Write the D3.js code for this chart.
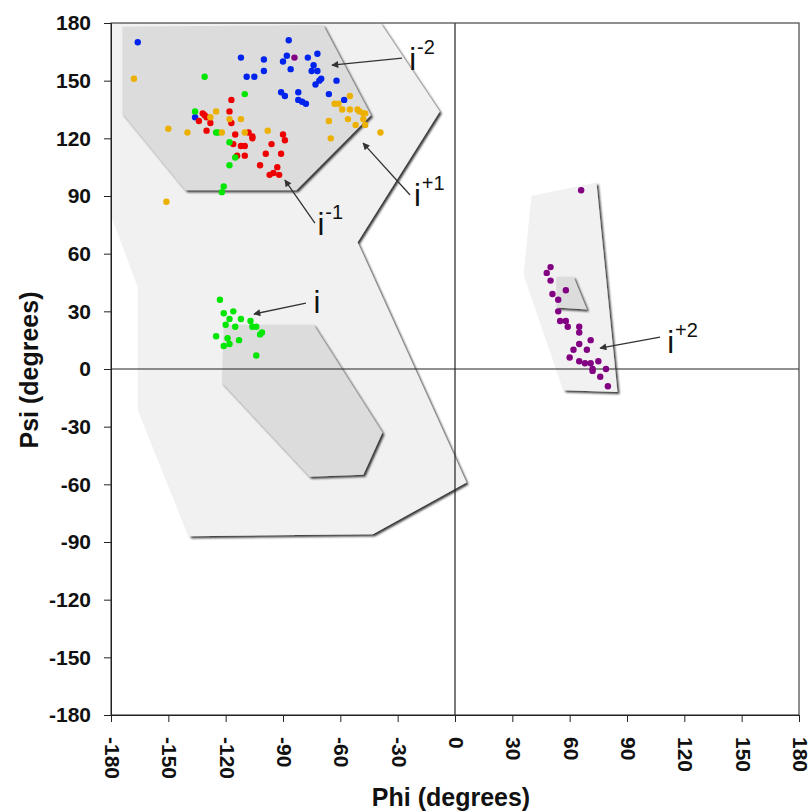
<!DOCTYPE html>
<html>
<head>
<meta charset="utf-8">
<script src="https://cdn.jsdelivr.net/npm/d3@7"></script>
<style>
  body { margin: 0; background: #ffffff; }
  svg { display: block; font-family: "Liberation Sans", Arial, sans-serif; }
</style>
</head>
<body>
<svg id="chart" width="809" height="812"></svg>
<script>
// tick values for both axes
const tickValues = [-180, -150, -120, -90, -60, -30, 0, 30, 60, 90, 120, 150, 180];

// series points, [phi, psi] in degrees
const ptsIm2 = [[-166,170],[-112,162],[-100,161],[-87,171],[-88,163],[-90,160],[-86,156],[-100,155],
  [-109,152],[-105,152],[-91,144],[-89,142],[-82,144],[-82,140],[-80,139],[-78,138],[-136,131],
  [-77,162],[-72,164],[-74,158],[-75,155],[-72,155],[-70,151],[-71,150],[-73,148],[-62,150],[-66,143],[-58,140]];
const ptsIm1 = [[-117,140],[-118,134],[-132,133],[-131,132],[-130,131],[-134,129],[-128,128],[-117,128],
  [-130,124],[-115,122],[-108,123],[-106,121],[-106,120],[-116,117],[-112,116],[-110,116],[-110,111],
  [-114,111],[-96,117],[-99,112],[-91,112],[-90,122],[-89,119],[-102,106],[-93,105],[-97,101],[-95,102],[-92,101]];
const ptsI = [[-131,152],[-110,143],[-136,134],[-125,123],[-124,123],[-118,118],[-115,110],[-118,106],
  [-121,95],[-122,92],
  [-123,36],[-121,29],[-116,30],[-118,26],[-120,23],[-115,22],[-112,26],[-107,25],[-106,22],[-104,22],
  [-102,18],[-101,19],[-125,17],[-119,16],[-113,15],[-121,12],[-118,13],[-104,7]];
const ptsIp1 = [[-168,151],[-151,87],[-150,125],[-140,123],[-125,134],[-128,131],[-118,130],[-112,130],
  [-122,123],[-110,123],[-98,124],[-55,142],[-63,138],[-61,138],[-59,135],[-55,135],[-51,135],[-50,134],
  [-48,133],[-47,133],[-66,129],[-56,130],[-52,127],[-48,130],[-47,127],[-39,123],[-65,120]];
const ptsIp2 = [[-84,162],[66,93],[50,53],[48,50],[50,46],[58,41],[51,39],[54,36],[54,30],[55,25],[58,25],
  [59,22],[65,22],[65,19],[71,15],[65,13],[69,10],[62,10],[60,6],[65,4],[68,3],[71,3],[75,4],[72,0],
  [72,-1],[79,0],[76,-4],[80,-9]];

const seriesColors = ["#0024ee", "#ee0000", "#00e600", "#ecb000", "#820082"];

// allowed regions (outer = light, inner = dark), vertices in degrees
const outerRegionA = [[-180,180],[-39,180],[-8,134],[-51,66],[6,-59],[-43,-86],[-139,-87],[-166,-20],[-166,44],[-180,81]];
const outerRegionB = [[40,90],[74,97],[85,-12],[57,-11],[36,50]];
const innerRegionA = [[-174,178],[-69,179],[-44,132],[-83,93],[-141,93],[-174,133]];
const innerRegionB = [[-121,23],[-74,23],[-38,-33],[-48,-55],[-76,-56],[-122,-7]];
const innerRegionC = [[53,48],[62,48],[69,31],[53,32]];

// labels: name, superscript, label anchor, arrow start, arrow end (degrees)
const labelNames = ["i", "i", "i", "i", "i"];
const labelSups = ["-2", "+1", "-1", "", "+2"];
const labelPos = [[-24,155.5],[-21.5,85],[-72,69.5],[-74,29],[111,8.3]];
const arrowFrom = [[-27.7,161.7],[-23.5,90.5],[-73.3,75.9],[-78,34.3],[107.3,16.6]];
const arrowTo = [[-64.4,158.1],[-48.1,117.5],[-89,98.3],[-105.2,28.6],[75.9,10.9]];

let chart = d3.select("#chart");

let x = d3.scaleLinear().domain([-180, 180]).range([111, 799]);
let y = d3.scaleLinear().domain([-180, 180]).range([715, 23]);

// shadow filter for the regions
let defs = chart.append("defs");
let f = defs.append("filter").attr("id", "shadow")
  .attr("x", "-10%").attr("y", "-10%").attr("width", "120%").attr("height", "120%");
f.append("feDropShadow").attr("dx", 2).attr("dy", 2).attr("stdDeviation", 0.9)
  .attr("flood-color", "#1a1a1a").attr("flood-opacity", 0.9);

defs.append("marker").attr("id", "arrow")
  .attr("viewBox", "0 0 10 10").attr("refX", 9).attr("refY", 5)
  .attr("markerWidth", 9).attr("markerHeight", 7).attr("markerUnits", "userSpaceOnUse")
  .attr("orient", "auto")
  .append("path").attr("d", "M0,0 L10,5 L0,10 z").attr("fill", "#333");

let line = d3.line().x(d => x(d[0])).y(d => y(d[1])).curve(d3.curveLinearClosed);

// light regions
chart.selectAll("path.outer")
  .data([outerRegionA, outerRegionB]).enter()
  .append("path").attr("class", "outer")
  .attr("d", line)
  .attr("fill", "#f1f1f1")
  .attr("filter", "url(#shadow)");

// dark regions
chart.selectAll("path.inner")
  .data([innerRegionA, innerRegionB, innerRegionC]).enter()
  .append("path").attr("class", "inner")
  .attr("d", line)
  .attr("fill", "#dcdcdc")
  .attr("filter", "url(#shadow)");

// zero lines
chart.append("line")
  .attr("x1", x(-180)).attr("x2", x(180)).attr("y1", y(0)).attr("y2", y(0))
  .attr("stroke", "#222").attr("stroke-width", 1.2);
chart.append("line")
  .attr("x1", x(0)).attr("x2", x(0)).attr("y1", y(180)).attr("y2", y(-180))
  .attr("stroke", "#222").attr("stroke-width", 1.2);

// frame
chart.append("rect")
  .attr("x", x(-180)).attr("y", y(180))
  .attr("width", x(180) - x(-180)).attr("height", y(-180) - y(180))
  .attr("fill", "none").attr("stroke", "#444").attr("stroke-width", 1.2);

// axes (plain hyphen minus like the original)
let fmt = d => String(d);

let yAxis = d3.axisLeft(y).tickValues(tickValues).tickFormat(fmt).tickSize(7).tickPadding(13);
chart.append("g")
  .attr("transform", "translate(" + x(-180) + ",0)")
  .call(yAxis)
  .call(g => g.selectAll("text").style("font-size", "21px").style("font-weight", "bold").attr("fill", "#111"))
  .call(g => g.selectAll("line, path").attr("stroke", "#222"));

let xAxis = d3.axisBottom(x).tickValues(tickValues).tickFormat(fmt).tickSize(7);
chart.append("g")
  .attr("transform", "translate(0," + y(-180) + ")")
  .call(xAxis)
  .call(g => g.selectAll("text")
    .attr("transform", "rotate(90)")
    .attr("x", 22).attr("y", -1).attr("dy", "0.35em")
    .attr("text-anchor", "start")
    .style("font-size", "21px").style("font-weight", "bold").attr("fill", "#111"))
  .call(g => g.selectAll("line, path").attr("stroke", "#222"));

// axis titles
chart.append("text")
  .text("Phi (degrees)")
  .attr("x", 451).attr("y", 806)
  .attr("text-anchor", "middle")
  .style("font-size", "25px").style("font-weight", "bold").attr("fill", "#111");

chart.append("text")
  .text("Psi (degrees)")
  .attr("transform", "translate(38,370) rotate(-90)")
  .attr("text-anchor", "middle")
  .style("font-size", "25px").style("font-weight", "bold").attr("fill", "#111");

// points
let allSeries = [ptsIm2, ptsIm1, ptsI, ptsIp1, ptsIp2];
allSeries.forEach(function(pts, i) {
  chart.selectAll("circle.s" + i)
    .data(pts).enter()
    .append("circle").attr("class", "s" + i)
    .attr("cx", d => x(d[0]))
    .attr("cy", d => y(d[1]))
    .attr("r", 3.2)
    .attr("fill", seriesColors[i]);
});

// arrows
chart.selectAll("line.arrow")
  .data(arrowFrom).enter()
  .append("line").attr("class", "arrow")
  .attr("x1", d => x(d[0])).attr("y1", d => y(d[1]))
  .attr("x2", (d, i) => x(arrowTo[i][0])).attr("y2", (d, i) => y(arrowTo[i][1]))
  .attr("stroke", "#333").attr("stroke-width", 1.3)
  .attr("marker-end", "url(#arrow)");

// labels
labelNames.forEach(function(name, i) {
  let t = chart.append("text")
    .attr("x", x(labelPos[i][0])).attr("y", y(labelPos[i][1]))
    .style("font-size", "31px").attr("fill", "#111")
    .text(name);
  if (labelSups[i] !== "") {
    t.append("tspan").attr("dy", -16).attr("dx", 1)
      .style("font-size", "20px")
      .text(labelSups[i]);
  }
});
</script>
</body>
</html>
